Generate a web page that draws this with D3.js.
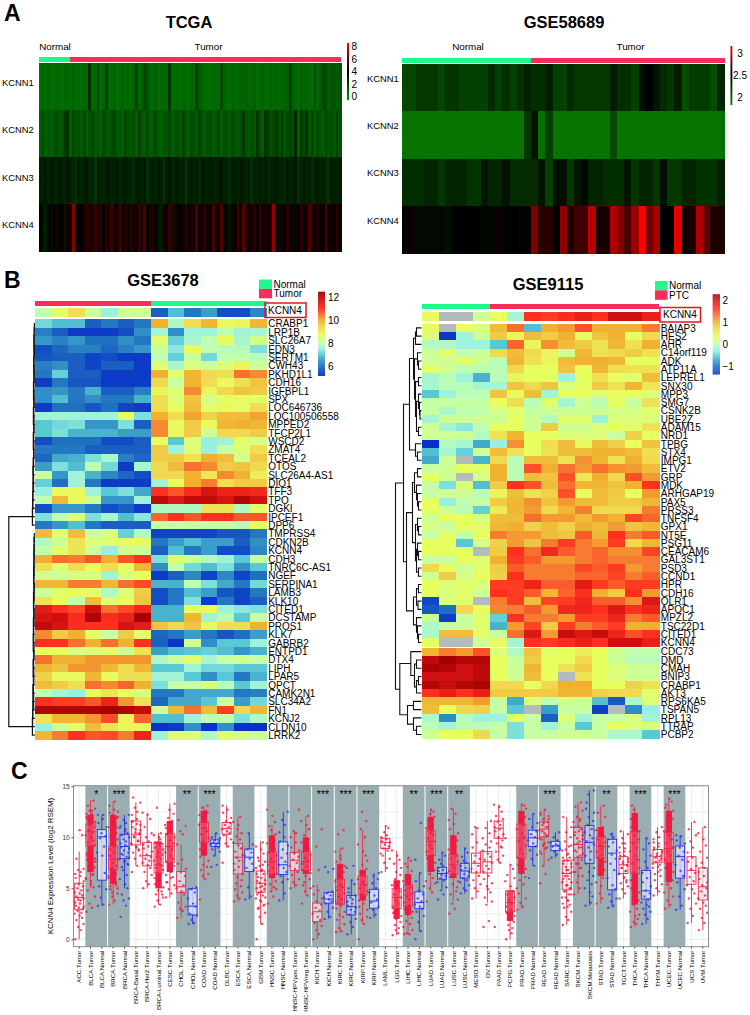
<!DOCTYPE html>
<html>
<head>
<meta charset="utf-8">
<script src="https://cdn.jsdelivr.net/npm/d3@7"></script>
<style>
  body { margin: 0; background: #fff; }
  text { font-family: "Liberation Sans", Arial, sans-serif; fill: #000; }
</style>
</head>
<body>
<svg id="fig" width="750" height="1015"></svg>
<script>
// panel A
const kcnnGenes = ['KCNN1', 'KCNN2', 'KCNN3', 'KCNN4'];
const tcgaKcnn1 = [.6,.8,.6,.9,.7,.6,.8,.7,.6,.8,.7, .7,.9,.6,.7,.6,.9,.7,2.6,.7,.8, 1.9,.7,.9,2.1,.8,.7,.9,.6,.7,1, .7,.8,.7,.9,2.1,.8,1.1,1.9,1.4,.7, .7,1,.6,.8,.7,.7,2.3,.7,.6,.7, .6,.8,.7,.6,.9,.7,2.2,1.2,.7,.6, .6,.5,.7,.8,.6,1.7,.8,.7,.6,.9, .7,.7,.9,.8,1,.7,.8,1,.6,.7, 1,.7,.8,1.1,.7,.9,.7,.8,.9,1.1, 2.1,.9,.8,.7,1,.7,.9,.7,.7,1.6, .8,1.2,1.8,1.6,1.1,1.4,1.3,1,1.3];
const tcgaKcnn2 = [1.2,1.6,1,1.4,1.1,1.3,1.8,1.2,1.4,2.1,2.4, 1.1,1.7,1.3,1.5,1.2,1.9,1.1,1.4,1.8,1.2, 1.5,1.1,1.7,1.3,1,1.6,2,1.2,1.4,1.1, 1.8,1.3,1.2,1.6,1.1,1.9,1.4,1.2,1.6,1.1, 1.3,1.7,1.2,1,1.5,1.3,1.8,1.1,1.4,1.6, 1.2,1.9,1.3,1.1,1.6,1.4,1.2,2,1.3,1.1, 1.5,1.7,1.2,1.3,1.9,1.1,1.6,1.4,1.2,1.8, 1.3,1.1,1.5,2.2,1.4,1.2,1.7,1.3,2.3,1.6, 1.2,2.4,2,1.4,1.8,2.5,1.5,2.2,1.3,1.6, 2.1,1.4,2.8,1.2,2.2,1.5,2.6,1.3,1.9,1.1, 1.7,1.4,1.2,2,1.3,1.6,1.2,1.8,1.4];
const tcgaKcnn3 = [3.1,3,3.3,2.9,3.2,3.1,2.8,3.2,3,2.9,3.3, 3,2.7,2.4,3.2,2.9,3.1,3.4,2.9,3,2.3, 3.2,3,2.8,3.1,3.3,2.9,3,3.2,2.7,3.1, 3.3,2.9,3,2.6,3.2,3.1,2.9,3.3,2.5,3, 3.1,2.9,3.2,3,2.4,3.1,3.3,2.9,3,3.2, 2.8,3.1,2.3,3,3.2,2.9,3.1,2.7,3.3,3, 2.9,3.2,3,2.8,3.1,3.4,2.9,3,2.6,3.2, 3.1,2.9,3.3,3,2.8,3.2,2.5,3.1,2.9,3.3, 3,3.2,2.8,3,3.1,3.3,2.9,3,2.7,3.2, 2.9,3.1,3.3,2.4,3,3.2,2.9,3.1,2.6,3, 3.2,2.9,3.1,2.8,2.4,3.2,3,2.9,3.1];
const tcgaKcnn4 = [4.1,3.4,3,4,3.6,4.2,4.4,3.9,4.2,3.3,4.3, 4.4,6.4,3.9,4.1,4,4.5,4.9,4.4,4.6,5, 4.3,4.7,4.2,4.7,4.4,5.1,4.1,4.5,5.2,4.2, 4.6,4.1,4.7,4.3,4.4,4.9,4.2,5.4,4.1,4.5, 4.7,4,3.4,3.1,4.4,4.2,5,3.3,4.6,4.2, 4.1,4.3,4.8,4.1,4.5,4.3,5.3,4.2,4.4,4.8, 4.3,4.1,5.3,4.5,4.1,5.4,4.2,3.7,3.3,4.4, 4.2,5.2,4.1,5.6,4.7,4.1,4.4,4.8,4.2,5, 4.3,4.5,4.1,4.7,6.6,4,3.6,4.5,4.2,4.8, 4.1,4.3,3.7,4.2,4.8,4.1,4.4,5.5,4.4,4.1, 4.6,4.1,4.2,5.3,3.8,4.4,4.2,4.8,4.2];
const tcgaValues = [tcgaKcnn1, tcgaKcnn2, tcgaKcnn3, tcgaKcnn4];
const tcgaNormalCount = 11;

const gseKcnn1 = [2.12,2.12,2.2,2.2,2.2,2.12,2.22,2.22,2.15,2.15,2.15,2.15,2.28,2.15,2.25,2.15,2.25,2.33, 2.25,2.25,2.35,2.15,2.15,2.28,2.2,2.2,2.2,2.2,2.2,2.35,2.25,2.25,2.15,2.42,2.5,2.38,2.28,2.2,2.35,2.08,2.18,2.18,2.18,2.08,2.3];
const gseKcnn2 = [1.87,1.87,1.87,1.87,1.87,1.87,1.87,1.87,1.87,1.87,1.87,1.87,1.87,1.87,1.87,1.87,1.87,2.2, 2.4,1.9,2.15,1.87,1.87,1.87,1.87,1.87,1.87,1.87,1.87,2.1,1.87,1.87,1.87,1.87,1.87,1.87,1.87,1.87,1.87,1.87,1.87,1.87,1.87,1.87,1.87];
const gseKcnn3 = [2.25,2.25,2.25,2.3,2.3,2.2,2.3,2.3,2.3,2.22,2.22,2.38,2.3,2.3,2.4,2.27,2.27,2.27, 2.27,2.4,2.15,2.42,2.42,2.2,2.38,2.45,2.3,2.3,2.25,2.25,2.25,2.38,2.2,2.3,2.3,2.2,2.42,2.2,2.2,2.3,2.3,2.23,2.23,2.23,2.32];
const gseKcnn4 = [2.5,2.54,2.45,2.45,2.45,2.45,2.42,2.5,2.5,2.5,2.5,2.46,2.46,2.53,2.48,2.5,2.48,2.48, 2.83,2.6,2.6,2.5,2.87,2.58,2.66,2.66,2.98,2.56,2.56,2.95,2.85,2.7,2.9,3.16,2.8,2.93,2.5,2.5,3.1,2.55,2.58,2.95,2.75,2.58,2.58];
const gseValues = [gseKcnn1, gseKcnn2, gseKcnn3, gseKcnn4];
const gseNormalCount = 18;

// panel B, GSE3678: 7 tumor columns then 7 normal columns
const g3678Genes = ['CRABP1','LRP1B','SLC26A7','EDN3','SERTM1','CWH43','PKHD1L1','CDH16','IGFBPL1','SPX','LOC646736','LOC100506558','MPPED2','TFCP2L1','WSCD2','ZMAT4','TCEAL2','OTOS','SLC26A4-AS1','DIO1','TFF3','TPO','DGKI','IPCEF1','DPP6','TMPRSS4','CDKN2B','KCNN4','CDH3','TNRC6C-AS1','NGEF','SERPINA1','LAMB3','KLK10','CITED1','DCSTAMP','PROS1','KLK7','GABRB2','ENTPD1','DTX4','LIPH','LPAR5','QPCT','CAMK2N1','SLC34A2','FN1','KCNJ2','CLDN10','LRRK2'];
const g3678Kcnn4 = [8,8.6,9.3,8.2,7.5,8.3,8.2,5.8,6.9,6.1,6.6,5.6,5.6,6.3];
const g3678Values = [
  [7.2,6.9,6.9,5.8,6.1,5.8,6.1,10,7.8,9.3,9.9,8.8,8.9,9.9],
  [6.2,5.8,5.4,5.4,5.4,5.6,6.4,7.7,6.4,7.6,7.6,8,7.6,7.7],
  [6.5,6.2,6.5,6,6,6.4,6.1,8.6,7.1,7.7,8,8.8,7.7,8.3],
  [5.6,5.9,6.2,6.2,5.9,6.2,6.5,8.2,7.4,8.8,8,7.9,7.9,7.3],
  [5.7,5.8,5.8,5.5,5.6,5.4,5.4,8,7.1,8.2,7.2,8,8,7.9],
  [6.2,6.4,5.8,5.5,5.8,5.8,5.4,8.5,7.7,8.4,8.2,8.5,8.9,8.2],
  [6.1,7.1,5.8,5.8,5.4,5.4,5.4,10,8.6,9.9,9.4,9.3,10.5,10.3],
  [5.4,6.1,5.7,5.7,5.4,5.4,5.4,9.4,8.1,9.9,9.3,8.8,9.3,9.7],
  [6.4,6.5,6.1,6.8,5.8,5.8,6.2,8.9,8.5,10.3,8.9,9.4,9.7,9.6],
  [6.4,6.9,6.1,6.4,6.1,6.1,6.8,9.3,8.5,9.7,8.3,8.7,8.8,8.6],
  [5.4,6,6,5.7,6,5.5,5.4,9.3,8.7,9.8,8.6,8.8,8.6,9.3],
  [7.6,7.6,7.6,7.6,7.6,8.7,7.3,10,9.3,10.1,9.5,9.8,9.8,10.1],
  [7,7.2,7.3,6.5,6.5,7.3,5.8,10.3,8.8,9.6,8.8,9.9,10,9.9],
  [7,7.3,6.8,6.8,6.8,6.6,6.6,10.3,8.8,9.6,8.2,9.4,9.4,9.6],
  [5.6,6,6,6,5.6,5.6,5.8,8.7,7,8.5,7.5,7.6,8.6,8.4],
  [6.1,6.1,6.1,5.8,5.8,5.8,5.8,9.6,7.6,8.5,7.5,8.1,8.5,9.3],
  [5.9,6.7,6.8,7.3,7.7,6.2,5.9,9.6,9.6,9.2,10,9.8,8.3,9.6],
  [6.6,7.3,6.9,8,7.2,5.4,7.7,9.4,9.8,10.5,10.3,9.6,9.7,9.4],
  [8.2,6.5,7.6,6.8,6.3,5.9,5.6,9.4,9.4,10,9.1,10.3,10,9],
  [7.1,6,7.6,6.1,5.4,5.4,5.4,7.6,8.7,10,10.4,9.3,9.6,9.6],
  [7.5,8.8,8.8,7.6,7,7.3,6.7,11,10.7,11.1,11.7,11.3,11.3,11.2],
  [8,9.8,8.8,8.2,6.5,6.5,7.6,12,11.6,12,12,11.7,12.2,11.8],
  [5.6,6.5,6.5,6.1,5.6,5.8,5.4,7.8,7.8,7.8,9.2,9.2,7.8,8.6],
  [7.3,8,8.5,7.3,7.7,6.9,7.4,10.6,11,10.7,11,11,10.7,10.7],
  [6.1,6.5,6.9,6.1,5.8,5.8,5.8,8.1,8.1,8.1,8.1,8.1,7.9,8.7],
  [9.8,8.6,9.8,8.2,8.4,7.1,7.8,5.5,5.5,5.5,5.5,5.7,5.7,6.1],
  [7.8,8.2,9.2,8.5,8.6,8.8,8.8,6.1,6.6,6.9,6.6,6.6,5.8,6.4],
  [8,8.6,9.2,8.2,7.5,8.3,8.2,5.8,6.9,6.1,6.6,5.6,5.6,6.3],
  [10,10.5,10.4,10.7,10,10.7,11,7.3,8.6,8.2,7.8,7.6,7,8.1],
  [9.3,8.6,9.3,8.8,9.3,8.7,9.9,6.4,8,7.2,6.9,7.3,6.4,7],
  [8.3,8.2,8.4,8.4,7.6,8.4,8.7,5.4,5.8,6.3,5.5,6.3,5.5,6],
  [9.9,9.9,10.4,10.4,9.9,10.5,10.8,6.8,6.8,8,7.3,6.7,6.1,7.2],
  [8.2,8.6,8.8,8.6,7.8,8.5,9.6,5.6,6.1,6.9,6.6,5.7,5.5,6.1],
  [9.2,8.8,8,9.8,8.5,8.7,9.7,5.6,6.1,7.3,5.4,6.1,5.5,5.8],
  [11.5,11,10.8,11.8,10.5,10.8,11.2,6.8,6.8,8.7,8.8,7.6,7.4,7.3],
  [11.7,11.8,11.1,12.3,11.1,11.3,12.4,6.8,6.8,9.9,7.6,7.9,7,8.1],
  [12,11.7,11.1,11,11,11.7,11.5,9.7,9.4,9.7,8.8,9.3,9.3,10],
  [10.3,9.6,10,8.6,8.1,9.6,8.6,5.9,6.1,6.6,6.1,5.7,6,6.6],
  [11,11,10.5,10,10.5,10,11,5.8,5.3,8.3,6.4,7,7,7.6],
  [8.7,8.7,8.4,8.4,8.6,8.2,9.2,6.6,6.9,7,7.1,6.9,6.5,6.8],
  [10.5,10,10,10.2,10.2,10.2,10.2,7.8,8.2,8.6,7.7,8.1,8.3,8.1],
  [9.9,9.7,10.2,10.2,9.9,9.3,9.9,7,7,7.6,7.2,7.2,7,7],
  [9.5,8.8,8.8,9.9,8.8,9.3,9.3,7.6,7.6,7,6.4,7,6.1,6.8],
  [9.8,9.6,9.3,10.5,10.3,10.6,10,7.3,8.1,8.1,8.4,7.9,7,7.6],
  [8,7.7,7.5,8.7,9.2,8.7,8.4,6.1,6.1,6.7,6.7,6.7,6.1,6.2],
  [11,10.9,10.9,10.7,11.3,10.2,9.2,5.9,6.7,6.7,7,8.1,6.6,7.2],
  [12.3,12.3,12.3,12.3,12.4,12.3,12,8.2,9.9,10.5,9.8,10.9,9.4,9.9],
  [9.2,9.9,9.9,10.2,10.8,8.9,10.6,6.9,6.9,7.6,8,8,7.3,7.8],
  [7.5,8.2,8.6,9.8,9.2,8.9,8.9,5.3,5.4,6.4,5.3,6.4,5.3,5.3],
  [9.9,10.4,11,10.7,10.8,10.4,11.3,7.6,8.6,8.5,7.8,8.6,8.4,8.2]
];
const g3678TopMerges = [.4,.6,.9,.5,.8,1.1,.6,.9,1.3,.7,1,1.4,.8,1.1,1.5,.9,1.2,1.6,1.8,1.3,1.9,2,2.2,2.4];
const g3678BottomMerges = [.5,.8,.6,1,.7,1.2,.9,.6,1.3,1,.7,1.4,1.1,1.6,.8,1.2,1.7,1,1.4,1.9,1.2,2,2.2,2.4];

// panel B, GSE9115: 4 normal columns then 10 PTC columns, null = missing cell
const g9115Genes = ['BAIAP3','HES2','AHR','C14orf119','ADK','ATP11A','LEPREL1','SNX30','MPP3','SMG7','CSNK2B','UBE2Z','ADAM15','NRD1','TPBG','STX4','IMPG1','ETV2','GRP','MDK','ARHGAP19','PAX5','PRSS3','TNFSF4','GPX1','NT5E','PSG11','CEACAM6','GAL3ST1','PSD3','CCND1','HPR','CDH16','OLR1','APOC1','MPZL2','TSC22D1','CITED1','KCNN4','CDC73','DMD','CMAH','BNIP3','CRABP1','AKT3','RPS6KA5','TSPAN5','RPL13','TTRAP','PCBP2'];
const g9115Kcnn4 = [.35,null,null,.1,.3,-.2,1.6,1.55,1.65,1.8,1.6,2,2,1.8];
const g9115Values = [
  [.35,null,.3,.2,.9,1.3,-.6,1,1.1,1.45,1,1,1,1.25],
  [.2,-1.35,-.25,.1,.8,.4,.9,.8,1,.3,.85,1,.3,.7],
  [-.1,-.1,-.25,-.25,-.55,1.35,.4,1.15,.9,.8,.6,.95,.6,1],
  [.1,.25,0,.1,.7,.9,.7,.4,.1,.95,.6,.7,.8,.6],
  [.1,.1,.25,.1,-.05,.95,.6,.4,.9,1,1,.95,.3,.3],
  [.25,.1,-.05,-.05,-.05,.7,.3,.3,.85,.3,.95,.65,.6,.6],
  [-.2,-.05,-.25,-.65,-.05,.4,.3,.3,-.25,.3,.6,.3,.25,.9],
  [-.2,-.05,-.05,-.2,-.2,.85,.7,.85,.2,.3,.8,.6,.95,.55],
  [-.55,-.25,-.05,-.05,.85,.35,.9,-.25,.3,.3,.2,.3,.3,.2],
  [.05,.05,.05,.05,.3,.65,-.05,.25,-.2,.1,-.05,.3,.05,.6],
  [.05,-.15,0,0,.15,.25,.05,.1,.1,.1,.1,.15,.15,.25],
  [-.2,.1,.1,.1,.1,.3,.1,-.1,.25,.25,-.25,.2,.2,.2],
  [.1,-.2,-.35,0,.3,.3,.1,.8,.1,.1,.2,.3,.25,.6],
  [.1,.1,.1,-.1,.6,.95,.3,.3,.2,.2,.2,.05,.75,.3],
  [-1.4,-.1,-.2,-.7,-.3,1.15,.3,.65,.9,.35,.9,.75,.3,.85],
  [-.6,-.2,-.5,.1,.9,.6,.3,.6,.9,.9,1,1,.9,.65],
  [-.7,.1,null,-.65,.7,-.05,.9,.9,.6,1.15,.95,.6,1,.7],
  [.05,.1,.3,.25,1,-.05,1.45,1,1.3,1.1,1.3,1.15,1.1,.9],
  [.3,.1,null,.15,1,-.05,.9,.85,1.45,.55,1,.7,1.45,1.1],
  [.05,-.4,.2,-.6,.8,1.6,1.45,.9,1.3,.95,.95,.85,1,1.6],
  [.05,.1,.1,-.05,.4,.9,.6,.75,1.45,.3,.9,.8,.3,1.1],
  [.3,-.3,0,.05,.8,.95,1.15,.85,1.1,.9,.9,.8,.8,.95],
  [.3,.1,-.05,-.5,.5,.95,1.1,.7,.95,1.25,.7,.7,.7,1.25],
  [.1,.3,.3,.2,.9,.9,1.3,1.1,1.1,.9,1.1,1,1.5,1.35],
  [.15,.05,.3,.25,.95,1,.75,.9,.75,1,.9,1.1,.85,.95],
  [.05,.3,0,.3,1.25,1.1,1.1,.9,.85,1.4,.95,1.6,1.25,1.4],
  [.3,.3,-.55,.15,.75,1.1,.85,1.25,1.55,1.25,1.1,1.55,.7,.95],
  [.3,.3,.3,null,.8,1.6,1.3,1.7,1.4,1.25,1.35,1.15,1.15,1.5],
  [.05,.05,.3,.25,1,1.55,1.4,1.1,1.1,1.25,1.35,1.25,1.25,1.25],
  [.7,.35,.1,.25,.8,1.4,1.25,1.25,1.25,1.5,1.4,1.55,1.1,1.25],
  [.1,.8,.15,.3,.75,1.6,1.25,1.25,1.25,1.35,1.35,1.5,1.25,1.4],
  [.3,.2,.25,.2,1.55,1.55,1.75,1.4,1.4,1.85,1.55,1.4,1.55,1.55],
  [.3,.2,.25,.1,1.6,1.55,1.4,.95,1.35,1.6,1,.8,1.6,1.1],
  [-1.25,.2,.25,null,1.25,1.55,.9,1.5,1.55,1.7,1.4,1.4,1.15,1.9],
  [-1.15,-1,.7,.3,1.2,1.25,1.4,1.1,1.7,1.75,1.6,1.9,1.6,1.75],
  [.1,-1.3,.05,.25,-.5,1.6,1.25,1.25,1.1,1.55,1.55,1.75,1.25,1.4],
  [-.15,.05,.1,.25,-.65,1.1,1.5,.8,1.55,1.25,1.4,1.55,1,1],
  [-.15,.9,.9,.25,.05,1.3,1.9,1.1,2.05,1.9,2.05,1.75,1.45,1.6],
  [.3,null,null,.1,.3,-.2,1.6,1.55,1.65,1.8,1.6,2,2,1.8],
  [.95,1.25,1.1,1.45,.2,-.1,.85,.25,.3,.5,.3,.1,0,0],
  [2.1,2.25,2.15,2.15,.3,.05,.8,.3,.3,.7,.3,.1,-.05,-.05],
  [2.2,2.15,2,2.1,.3,.1,.95,.3,.6,.8,.3,.2,.1,.1],
  [2,2,2,2.1,.3,.1,.9,.3,null,.6,.3,.2,.1,.1],
  [2.15,2.05,2.15,2.2,.7,.7,.3,.7,1,1,.3,.3,.75,.6],
  [1.6,1.8,1.6,1.8,.8,.8,.8,.8,.95,.95,.75,.7,.7,.25],
  [.95,.95,.95,1.1,.05,-.7,.2,0,.15,.1,-.6,-1.15,-.15,.2],
  [.9,.3,.7,.75,.05,-.55,null,-.75,.05,.05,-1.3,null,-.85,-.3],
  [-.15,-.85,-.05,-.25,-.25,.3,.05,-1.1,.2,-.25,.05,.05,.2,-.25],
  [-.05,-.2,-.05,-.05,.05,-.4,.05,-.25,.05,-.55,.05,.3,.2,.2],
  [.1,.3,.3,.7,.05,-.4,.05,.05,.1,.1,.05,-.15,-.15,-.55]
];
// [height, child, child], numbers are row indexes
const g9115Tree = [26,
  [18,
    [12,
      [8, [6, [5,0,1], 2], [7, [4,3,[3,4,5]], [6, [3,6,7], [5, [3,8,[2,9,[1.5,10,11]]], [3,12,13]]]]],
      [6, 14, [4,15,16]]],
    [15,
      [9, [7, [4,17,18], [5,19,[4,20,[3,21,22]]]], [6, [4,23,[3,24,25]], [5, [4,26,[3,27,28]], [3,29,30]]]],
      [8, [5, [3,31,32], [3.5,33,34]], [5, 35, [4,36,[3,37,38]]]]]],
  [21.7,
    [10.7, 39, [7, [5,40,41], [5, [3,42,43], 44]]],
    [14, [8,45,46], [8,47,[5,48,49]]]]];

// panel C
const pancanCats = ['ACC.Tumor','BLCA.Tumor','BLCA.Normal','BRCA.Tumor','BRCA.Normal','BRCA-Basal.Tumor','BRCA-Her2.Tumor','BRCA-Luminal.Tumor','CESC.Tumor','CHOL.Tumor','CHOL.Normal','COAD.Tumor','COAD.Normal','DLBC.Tumor','ESCA.Tumor','ESCA.Normal','GBM.Tumor','HNSC.Tumor','HNSC.Normal','HNSC-HPVpos.Tumor','HNSC-HPVneg.Tumor','KICH.Tumor','KICH.Normal','KIRC.Tumor','KIRC.Normal','KIRP.Tumor','KIRP.Normal','LAML.Tumor','LGG.Tumor','LIHC.Tumor','LIHC.Normal','LUAD.Tumor','LUAD.Normal','LUSC.Tumor','LUSC.Normal','MESO.Tumor','OV.Tumor','PAAD.Tumor','PCPG.Tumor','PRAD.Tumor','PRAD.Normal','READ.Tumor','READ.Normal','SARC.Tumor','SKCM.Tumor','SKCM.Metastasis','STAD.Tumor','STAD.Normal','TGCT.Tumor','THCA.Tumor','THCA.Normal','THYM.Tumor','UCEC.Tumor','UCEC.Normal','UCS.Tumor','UVM.Tumor'];
const boxQ1 = [2.9,9.15,5.8,6.8,7.9,9.25,7.2,6.5,7.55,4.6,2.4,9.5,9.1,10.3,6.4,6.65,4.6,6.4,6.35,6.75,6.75,1.75,3.55,3.45,2.4,4.35,3.05,8.9,3,3.25,3,8.2,5.9,6.4,6,6.5,6.5,9.9,2.7,7.95,9.1,10.05,8.7,4.85,8,7.45,7.95,4.85,6.45,6.45,3.95,7.5,7.5,6,5.4,3.85];
const boxMed = [4.1,10.55,10.05,7.85,9.1,10.3,8.2,7.3,9.1,5.15,3.25,10.9,9.4,10.85,8.05,8.05,5.5,7.6,7.3,7.75,7.6,2.7,3.95,5.15,3.2,5.4,3.75,9.5,4.1,4.35,3.6,9.6,6.45,7.3,6.7,7.45,7.6,10.9,3.6,9.9,9.95,10.8,9.15,6.45,9.3,9.5,9.1,8.45,7.3,9.5,4.75,8.1,8.9,8.1,6.75,5.15];
const boxQ3 = [5.5,11.3,10.75,9.15,10.3,11.6,9.5,9.4,10.35,6.65,4.95,11.45,9.75,11.45,9.4,8.85,6.7,8.55,9.55,8.5,8.6,3.55,4.6,5.9,4.3,6.2,4.9,9.9,4.95,5.35,4.65,10.65,7.05,8.35,7.45,8.45,8.6,11.6,4.75,11.3,10.7,11.5,9.6,7.75,10.95,11.15,10.05,9.8,8.1,10.55,6.75,8.8,10.45,9.15,8.1,7];
const whiskLo = [0,5,3.3,3.4,5,7.2,5,3.4,4.1,2.1,1.5,5.9,8.2,9,3.7,3.9,1.5,4.7,3.8,5,4.3,0,2,.7,.5,1.5,2.1,6.6,.4,.5,.8,4.7,4.9,3.7,4.5,4,3.6,7.5,0,3,7.2,7.2,8,1.4,4.4,3.3,3.5,3.1,4,1.2,1.5,4.3,3,2.9,1.6,.9];
const whiskHi = [8.6,13.65,12.2,13.5,12.2,13.4,12.4,10.4,13.3,9.3,5.1,13.1,10.4,13.1,12,10.4,9.6,11.2,12.5,10.6,12.1,5.4,4.7,8.9,5.8,10.7,6.5,11.1,8.7,8,6.5,12.6,8.5,12.8,8.9,11,11.6,13.2,7.3,13.2,12.3,12.7,10.5,12,13.4,14.6,13.1,10.5,10.6,13,9.9,11,13.8,10.2,11.5,11];
// value range that is packed solid with points, null = sparse group
const coreLo = [null,6.6,null,5.4,null,null,null,5,6.6,null,null,8.2,null,null,null,null,null,6,null,null,6.4,null,null,3.4,null,3.8,null,null,2,2.4,null,6.6,null,6,null,null,null,null,1.8,6.4,null,null,null,null,null,null,6.2,null,null,3.4,null,null,5.6,null,null,null];
const coreHi = [null,12.2,null,12.2,null,null,null,9.6,11.6,null,null,12.6,null,null,null,null,null,10.2,null,null,10,null,null,7.4,null,6.8,null,null,5.8,6.4,null,12,null,10.2,null,null,null,null,4.8,12.6,null,null,null,null,null,null,11,null,null,12.4,null,null,12.6,null,null,null];
const pointValues = [
  [0,.9,1.2,1.5,1.9,2.1,2.3,2.5,2.6,2.8,3,3.1,3.2,3.3,3.5,3.6,3.8,3.9,4,4.2,4.3,4.5,4.6,4.8,5,5.2,5.4,5.7,6,6.2,6.4,6.6,6.8,6.9,7.9,10.2,10.7],
  [2.7,3.1,3.5,4.2,4.8,5.1,5.4,5.9,6.3,6.8,7.1,7.5,7.9,8.2,8.6,12,12.3,12.6,12.8,13.1,13.6],
  [3.3,3.4,4.1,4.9,5.2,6.5,8.2,8.5,9.1,9.9,10.1,10.4,11,11.4,11.8,12.2,12.2],
  [3.4,3.8,4.2,4.5,4.9,5.3,5.7,6,6.4,7,11,11.5,12,12.4,12.7,13.1,13.5],
  [2.2,3.3,3.8,4,4.4,5,5.4,5.9,6.3,6.8,7.3,7.6,8,8.4,10.8,11.1,11.4,11.7,12.2],
  [6.6,7.2,7.9,8.2,8.5,8.8,9,9.3,9.6,10,10.4,10.8,11.2,11.5,11.8,12.2,12.5,12.9,13.4,13.9],
  [5,5.4,5.7,6.3,6.6,7,7.3,7.5,7.7,7.9,8.1,8.3,8.6,8.9,9.1,9.3,9.6,10,10.4,11,11.8,12.2,12.4],
  [3.2,3.4,3.8,4.1,4.4,4.7,10,10.2,10.4,12.9],
  [4.1,4.5,4.9,5.3,5.6,6.1,6.7,11.2,11.6,11.9,12.3,12.7,13.3],
  [2.1,2.8,3,3.2,3.6,4.4,4.7,5,5.3,5.7,6.2,6.6,6.9,7.4,7.8,9.3,10.3,10.6,11.1,11.7],
  [1.5,1.6,1.9,2.3,2.5,3.2,3.5,4,4.6,4.9,5.1],
  [3.9,5.9,6.2,6.4,6.8,7.1,11.8,12.2,12.6,12.9,13.1],
  [7.1,7.3,8.2,8.6,8.8,9,9.2,9.3,9.4,9.5,9.6,9.7,9.9,10,10.4],
  [7.5,9.1,9.4,9.8,10.2,10.4,10.6,10.8,11,11.2,11.4,11.6,11.9,12.4,12.7,13.1],
  [3.7,4,4.3,4.6,4.9,5.2,11.2,11.5,12],
  [3.9,4.2,5.1,6.8,7,7.4,7.9,8.2,8.5,8.8,9.3,10.4],
  [0,1.5,2.2,2.6,3,3.3,3.7,4,4.3,4.6,4.9,5.1,5.4,5.7,6,6.4,6.8,7.2,7.6,8,8.4,8.8,9.1,9.5],
  [3.5,4.2,4.7,4.9,11.1,11.5,12.1,12.7],
  [3.8,4.5,5.6,5.9,6.2,6.6,7,7.3,7.6,8,8.4,8.8,9.2,9.6,10,10.5,11.2,11.7,12.5],
  [5,5.3,5.6,5.9,6.3,6.6,6.9,7.2,7.5,7.8,8.1,8.4,8.7,9,9.5,10,10.4,10.6,12.7],
  [3.5,4.3,4.7,5,5.3,10.8,11.2,11.6,12.1],
  [0,.5,.9,1.3,1.6,1.9,2.2,2.5,2.8,3.1,3.4,3.7,4,4.4,4.8,5.2,6.8,9.1,10.8],
  [2,2.2,2.7,3.1,3.5,3.7,3.9,4.1,4.3,4.5,4.7,6.6,6.9,7.1],
  [.7,.8,1.1,1.5,1.9,2.2,8.2,8.6,8.9,10.3,10.7],
  [.5,1.2,1.7,2,5,5.4,5.8,7,7.2],
  [0,1.5,1.9,2.2,2.5,8.2,8.6,9.3,10,10.8,11.6,12.5],
  [2.1,2.4,2.9,3.2,3.6,3.9,4.3,4.6,5,5.5,5.9,6.2,6.5],
  [6.6,7,7.5,7.9,8.2,10.9,11.1],
  [.4,.6,.9,7,7.4,7.8,8.2,8.7],
  [.5,.5,.6,.9,7.4,7.7,8],
  [0,.8,1.7,2.3,2.7,3,3.2,3.4,3.7,4,4.4,4.8,5.2,5.7,6.5,7.8,11.4],
  [3.7,4.6,5,5.5,8,12.5,12.7],
  [3.9,4.4,4.8,5.1,7.8,8.2,8.5],
  [2.5,3,3.5,3.9,4.4,4.7,11.3,11.7,12.3,12.8],
  [4.5,4.8,5,5.3,8.1,8.5,8.9],
  [4,4.7,5,5.4,5.8,6.2,6.6,6.9,7.2,7.6,7.9,8.2,8.6,9,9.5,10.3,10.9,11],
  [1.2,1.8,3.4,3.7,4.1,4.6,4.9,9.9,10.4,10.9,11.6],
  [1.2,7.5,7.8,8.2,8.6,9,13,13.2],
  [0,.6,.9,6,6.3,6.9,7.3,9.9],
  [2.9,3.2,3.6,4,4.5,13.1,13.2],
  [6,7.2,7.9,8.3,8.7,9.1,9.4,9.7,10,10.3,10.6,11,11.4,11.8,12.3],
  [5.5,6.4,7.2,7.8,8.4,9,9.4,9.9,10.2,10.6,11,11.4,11.8,12.2,12.7],
  [8,8.3,8.6,8.9,9.1,9.2,9.3,9.5,9.7,10,10.5],
  [1.4,1.9,2.2,2.7,3.1,3.4,3.8,4.1,4.4,4.7,5,5.3,5.6,5.9,6.2,6.5,6.8,7.1,7.4,7.7,8,8.3,8.7,9.1,9.6,10,10.5,11,12],
  [4.4,5,5.6,6.2,6.6,7,7.4,7.8,8.2,8.6,9,9.4,9.8,10.2,10.6,11,11.6,12,12.6,13,13.4],
  [3.3,3.6,14.2,14.6,13.4],
  [3.5,4,4.5,12,12.4,13.1],
  [3.1,3.3,3.7,4,4.4,4.9,5.3,6,6.8,7.4,7.9,8.3,8.7,9.1,9.5,9.8,10,10.3],
  [4,4.5,4.9,5.2,5.5,5.8,6.1,6.4,6.7,7,7.3,7.6,7.9,8.2,8.6,9,9.4,9.9,10.3,10.6],
  [1.2,1.5,1.7,2.4,13.1],
  [1.5,2,2.4,2.7,3,3.2,3.4,3.6,3.9,4.2,4.5,4.8,5.2,5.6,6,6.5,7,7.6,8.2,8.8,9.4,9.9],
  [4.3,4.7,5,5.4,5.8,6.2,6.6,7,7.3,7.6,7.9,8.2,8.5,8.8,9.1,9.5,10,10.5,11],
  [3,3.4,3.8,4.2,13.2,13.5,13.8],
  [2.9,3.3,4.2,4.9,5.6,6.2,6.7,7.3,7.8,8.2,8.6,9,9.4,9.7,10.1,10.2],
  [1.6,2.3,3,3.5,4,4.5,4.9,5.3,5.7,6.1,6.5,6.9,7.2,7.6,8,8.5,9,9.6,10.2,10.8,11.5],
  [.9,1.6,2.1,2.6,3,3.3,3.6,4,4.3,4.7,5,5.3,5.6,5.9,6.2,6.6,7,7.5,8,8.6,9.2,9.8,10.4,11]
];
// points inside the crowded part of a column, same order as pancanCats
const crowdedValues = [
  [],
  [5.7,6,6.4,6.7,7,7.3,7.6,7.8,8.1,8.4,8.7,8.9,9.2,9.5,9.7,10,10.2,10.5,10.7,11,11.2,11.5,11.8,12,12.3,12.6],
  [],
  [4.6,5,5.2,5.6,5.9,6.2,6.5,6.9,7.2,7.5,7.8,8.2,8.5,8.8,9.1,9.4,9.8,10.1,10.4,10.7,11,11.3,11.6,11.9,12.2,12.5],
  [7.1,7.4,7.7,7.9,8.1,8.3,8.5,8.7,8.9,9,9.2,9.4,9.6,9.8,10,10.2,10.4,10.6,10.9],
  [8.7,9.1,9.4,9.7,10.1,10.3,10.5,10.7,11,11.3,11.6],
  [],
  [4.4,4.8,5.1,5.4,5.7,6,6.2,6.5,6.8,7,7.2,7.4,7.7,7.9,8.1,8.3,8.5,8.8,9,9.3,9.5,9.8],
  [5.6,6,6.3,6.6,6.9,7.2,7.6,7.9,8.2,8.5,8.8,9.1,9.4,9.7,10,10.3,10.6,10.9],
  [],
  [],
  [7.3,7.7,8.1,8.5,8.8,9.2,9.6,9.9,10.3,10.6,10.9,11.2,11.5,12,12.4],
  [],
  [],
  [5.5,5.8,6.1,6.4,6.8,7.1,7.4,7.7,8,8.3,8.6,8.9,9.2,9.5,9.8,10.1,10.4,10.8],
  [],
  [3.1,3.4,3.8,4.1,4.4,4.7,5,5.2,5.5,5.8,6.1,6.4,6.7,7,7.3,7.7],
  [5.1,5.4,5.7,6.1,6.4,6.7,7,7.3,7.6,7.9,8.2,8.5,8.8,9.1,9.4,9.7,10,10.3,10.7],
  [],
  [],
  [5.6,5.9,6.2,6.5,6.8,7.1,7.4,7.7,8,8.3,8.6,8.9,9.2,9.5,9.8,10.2],
  [],
  [],
  [2.4,2.7,3,3.3,3.6,3.9,4.2,4.5,4.8,5.1,5.4,5.7,6,6.3,6.6,6.9,7.2,7.6,7.9],
  [2.4,2.7,2.9,3.1,3.3,3.5,3.7,3.9,4.1,4.3,4.6],
  [2.9,3.2,3.5,3.8,4.1,4.4,4.7,5,5.3,5.6,5.9,6.2,6.5,6.9,7.3,7.7],
  [],
  [8.4,8.7,8.9,9.1,9.3,9.5,9.6,9.8,10,10.2,10.5],
  [1.1,1.4,1.7,2,2.3,2.6,2.9,3.2,3.5,3.8,4.1,4.4,4.7,5,5.3,5.6,5.9,6.3,6.6],
  [1.2,1.5,1.8,2.1,2.4,2.7,3,3.3,3.6,3.9,4.2,4.5,4.8,5.1,5.4,5.7,6,6.3,6.7,7.1],
  [],
  [5.7,6,6.4,6.8,7.1,7.5,7.9,8.2,8.6,8.9,9.2,9.6,9.9,10.2,10.5,10.9,11.2,11.6,12,12.3],
  [5.6,5.8,6,6.2,6.3,6.5,6.7,6.8,7,7.2,7.4],
  [5.1,5.4,5.7,6.1,6.4,6.7,7,7.3,7.6,7.9,8.2,8.5,8.8,9.1,9.4,9.7,10,10.4,10.8],
  [5.6,5.8,6,6.2,6.4,6.6,6.8,7,7.2,7.5,7.7],
  [],
  [5.2,5.5,5.9,6.2,6.6,6.9,7.2,7.5,7.8,8.1,8.4,8.7,9,9.3,9.6],
  [9.1,9.4,9.7,10,10.3,10.6,10.8,11,11.2,11.5,11.8,12.1,12.5],
  [1.1,1.4,1.7,2,2.3,2.6,2.9,3.2,3.5,3.8,4.1,4.4,4.7,5.2,5.7],
  [5,5.4,5.8,6.1,6.5,6.9,7.3,7.7,8,8.4,8.8,9.2,9.6,10,10.4,10.8,11.2,11.6,12,12.4,12.8],
  [],
  [8.6,8.9,9.2,9.5,9.8,10.1,10.4,10.7,11,11.2,11.5,11.8,12.1,12.4],
  [],
  [3.2,3.5,3.8,4.1,4.4,4.7,5,5.3,5.6,5.9,6.2,6.5,6.8,7.1,7.4,7.7,8,8.4,8.8,9.2],
  [6.2,6.6,7,7.4,7.8,8.1,8.4,8.7,9,9.3,9.6,9.9,10.2,10.5,10.8,11.1,11.5,11.8],
  [4.2,4.6,5,5.4,5.8,6.2,6.6,7,7.4,7.8,8.2,8.6,9,9.3,9.6,9.9,10.2,10.5,10.8,11.2,11.6,12,12.4,12.8],
  [5.2,5.6,6,6.4,6.8,7.2,7.6,8,8.3,8.6,8.9,9.2,9.5,9.8,10.1,10.4,10.7,11],
  [],
  [5.6,6,6.4,6.7,7,7.2,7.4,7.6,7.9,8.2,8.5,8.9,9.4],
  [2,2.3,2.7,3,3.4,3.8,4.2,4.6,5,5.4,5.8,6.2,6.6,7,7.4,7.8,8.2,8.6,9,9.4,9.8,10.2,10.6,11,11.4,11.8,12.2,12.7],
  [],
  [6.4,6.8,7.1,7.4,7.7,8,8.2,8.4,8.7,9,9.4,9.8],
  [4.6,5,5.4,5.8,6.2,6.6,7,7.4,7.8,8.2,8.6,9,9.4,9.8,10.2,10.6,11,11.4,11.8,12.2,12.6,12.9],
  [],
  [],
  []
];
const jitterSteps = [-.8,.3,-.2,.9,-.55,.6,.1,-.95,.45,-.35,.75,-.1,.95,-.7,.2];
const grayGroups = [['BLCA.Tumor','BLCA.Normal'],['BRCA.Tumor','BRCA.Normal'],['CHOL.Tumor','CHOL.Normal'],['COAD.Tumor','COAD.Normal'],['ESCA.Tumor','ESCA.Normal'],['HNSC.Tumor','HNSC.Normal'],['HNSC-HPVpos.Tumor','HNSC-HPVneg.Tumor'],['KICH.Tumor','KICH.Normal'],['KIRC.Tumor','KIRC.Normal'],['KIRP.Tumor','KIRP.Normal'],['LIHC.Tumor','LIHC.Normal'],['LUAD.Tumor','LUAD.Normal'],['LUSC.Tumor','LUSC.Normal'],['PRAD.Tumor','PRAD.Normal'],['READ.Tumor','READ.Normal'],['SKCM.Tumor','SKCM.Metastasis'],['STAD.Tumor','STAD.Normal'],['THCA.Tumor','THCA.Normal'],['UCEC.Tumor','UCEC.Normal']];
const groupStars = ['*','***','**','***','','','','***','***','***','**','***','**','','***','','**','***','***'];

const normalGreen = '#1ff98a';
const tumorRed = '#f92d5b';
const missingGray = '#b2bcbc';
const svg = d3.select('#fig');

function drawPanelLetter(label, x, y) {
  svg.append('text').attr('x', x).attr('y', y)
    .style('font-size', '23px').style('font-weight', 'bold').text(label);
}

function drawTitle(label, x, y) {
  svg.append('text').attr('x', x).attr('y', y).attr('text-anchor', 'middle')
    .style('font-size', '16.5px').style('font-weight', 'bold').text(label);
}

function drawColorBar(color, domain, ticks, box, labelX, anchor) {
  const yScale = d3.scaleLinear().domain(domain).range([box.y1, box.y0]);
  const g = svg.append('g');
  g.selectAll('rect').data(d3.range(box.y0, box.y1, 1)).enter().append('rect')
    .attr('x', box.x0).attr('width', box.x1 - box.x0)
    .attr('y', (d) => d).attr('height', 1.2)
    .attr('fill', (d) => color(yScale.invert(d + .5)));
  g.selectAll('text').data(ticks).enter().append('text')
    .attr('x', labelX).attr('y', (d) => yScale(d)).attr('dy', '.36em')
    .attr('text-anchor', anchor || 'start')
    .style('font-size', '10px').text((d) => String(d).replace('-', '\u2212'));
}

// panel A: one of the two green-black-red stripe heatmaps
function drawStripes(cfg) {
  const nCols = cfg.values[0].length;
  const xScale = d3.scaleBand().domain(d3.range(nCols)).range([cfg.x0, cfg.x1]);
  const yScale = d3.scaleBand().domain(kcnnGenes).range([cfg.y0, cfg.y1]);
  const g = svg.append('g').attr('shape-rendering', 'crispEdges');
  kcnnGenes.forEach((gene, r) => {
    g.selectAll(null).data(cfg.values[r]).enter().append('rect')
      .attr('x', (d, i) => xScale(i)).attr('y', yScale(gene))
      .attr('width', xScale.bandwidth() + .6).attr('height', yScale.bandwidth())
      .attr('fill', (d) => cfg.color(d));
  });
  const split = cfg.splitX || xScale(cfg.nNormal);
  g.append('rect').attr('x', cfg.x0).attr('y', cfg.barY).attr('height', cfg.barH)
    .attr('width', split - cfg.x0).attr('fill', normalGreen);
  g.append('rect').attr('x', split).attr('y', cfg.barY).attr('height', cfg.barH)
    .attr('width', cfg.x1 - split).attr('fill', tumorRed);
  svg.append('g').selectAll('text').data(kcnnGenes).enter().append('text')
    .attr('x', cfg.labelX).attr('y', (d) => yScale(d) + cfg.labelDy)
    .style('font-size', '9.4px').text((d) => d);
  svg.append('text').attr('x', cfg.normalX).attr('y', 49.5).attr('text-anchor', 'middle')
    .style('font-size', '9.8px').text('Normal');
  svg.append('text').attr('x', cfg.tumorX).attr('y', 49.5).attr('text-anchor', 'middle')
    .style('font-size', '9.8px').text('Tumor');
}

const tcgaColor = d3.scaleLinear().domain([0, 4, 8.6]).range(['#008000', '#000000', '#ff0000']);
const gseColor = d3.scaleLinear().domain([1.85, 2.5, 3.16]).range(['#087800', '#000000', '#ff0000']);
drawPanelLetter('A', 4, 21);
drawTitle('TCGA', 189, 28);
drawTitle('GSE58689', 564, 28);
drawStripes({ values: tcgaValues, nNormal: tcgaNormalCount, splitX: 70, color: tcgaColor,
  x0: 39, x1: 341, y0: 62.5, y1: 251.5, barY: 56.5, barH: 5.5, labelX: 2, labelDy: 23.5,
  normalX: 55, tumorX: 208.5 });
drawStripes({ values: gseValues, nNormal: gseNormalCount, color: gseColor,
  x0: 402, x1: 724.5, y0: 64, y1: 253.5, barY: 58, barH: 5.3, labelX: 367, labelDy: 17.5,
  normalX: 468, tumorX: 630.5 });
drawColorBar(tcgaColor, [-.5, 8.6], [0, 2, 4, 6, 8], { x0: 347, x1: 349, y0: 43, y1: 100 }, 351.5);
drawColorBar(gseColor, [1.83, 3.16], [2, 2.5, 3], { x0: 730.5, x1: 732.3, y0: 46, y1: 104.5 }, 740, 'middle');

// panel B
const g3678Color = d3.scaleLinear()
  .domain([5.3, 6, 6.6, 7, 7.5, 8, 8.7, 9.4, 10, 10.5, 11, 11.8, 12.5])
  .range(['#0a32c8', '#2070c0', '#3a9ec8', '#58c8d4', '#98f0e0', '#c0ffb0', '#e8ff60', '#f0d850', '#f0b030', '#f87030', '#ff3020', '#d01010', '#a00000']);
const g9115Color = d3.scaleLinear()
  .domain([-1.38, -1, -.75, -.55, -.3, 0, .3, .7, 1, 1.3, 1.6, 2, 2.26])
  .range(g3678Color.range());

// nested [height, child, child] tree drawn as elbow lines
function drawTree(node, xScale, yScale, g) {
  if (typeof node === 'number') return { x: xScale(0), y: yScale(node) + yScale.bandwidth() / 2 };
  const a = drawTree(node[1], xScale, yScale, g);
  const b = drawTree(node[2], xScale, yScale, g);
  const x = xScale(node[0]);
  g.append('path').attr('d', `M${a.x},${a.y}H${x}V${b.y}H${b.x}`);
  return { x: x, y: (a.y + b.y) / 2 };
}

// comb-shaped cluster: each merge height joins the next row
function combTree(firstRow, merges) {
  return merges.reduce((node, h, i) => [h, node, firstRow + i + 1], firstRow);
}

function drawHeatmap(cfg) {
  const columns = d3.range(cfg.kcnn4.length);
  const xScale = d3.scaleBand().domain(columns).range([cfg.x0, cfg.x1]);
  const yScale = d3.scaleBand().domain(cfg.genes.map((d, i) => i)).range([0, cfg.rowH * cfg.genes.length]);
  const rowY = (i) => cfg.y0 + yScale(i) + (cfg.gapAfter !== undefined && i > cfg.gapAfter ? cfg.gapH : 0);
  const cellFill = (d) => (d === null ? missingGray : cfg.color(d));
  const cells = svg.append('g').attr('shape-rendering', 'crispEdges');
  cfg.values.forEach((row, r) => {
    cells.selectAll(null).data(row).enter().append('rect')
      .attr('x', (d, i) => xScale(i)).attr('y', rowY(r))
      .attr('width', xScale.bandwidth() + .5).attr('height', cfg.rowH + .5)
      .attr('fill', cellFill);
  });
  cells.selectAll(null).data(cfg.kcnn4).enter().append('rect')
    .attr('x', (d, i) => xScale(i)).attr('y', cfg.kcnn4Y)
    .attr('width', xScale.bandwidth() + .5).attr('height', cfg.kcnn4H)
    .attr('fill', cellFill);
  cells.append('rect').attr('x', cfg.x0).attr('y', cfg.barY).attr('height', cfg.barH)
    .attr('width', xScale(cfg.split) - cfg.x0).attr('fill', cfg.firstColor);
  cells.append('rect').attr('x', xScale(cfg.split)).attr('y', cfg.barY).attr('height', cfg.barH)
    .attr('width', cfg.x1 - xScale(cfg.split)).attr('fill', cfg.secondColor);

  svg.append('g').selectAll('text').data(cfg.genes).enter().append('text')
    .attr('x', cfg.x1 + 1.5).attr('y', (d, i) => rowY(i) + cfg.rowH / 2).attr('dy', '.38em')
    .style('font-size', '10px').text((d) => d);

  svg.append('rect').attr('x', cfg.boxX).attr('y', cfg.boxY).attr('width', cfg.boxW).attr('height', cfg.boxH)
    .attr('fill', 'none').attr('stroke', '#e8141c').attr('stroke-width', 1.5);
  svg.append('text').attr('x', cfg.boxX + 3).attr('y', cfg.boxY + cfg.boxH / 2).attr('dy', '.36em')
    .style('font-size', '10px').text('KCNN4');

  const swatches = svg.append('g');
  cfg.legend.forEach((label, i) => {
    swatches.append('rect').attr('x', cfg.legendX).attr('y', cfg.legendY + i * cfg.legendStep)
      .attr('width', cfg.legendW).attr('height', cfg.legendStep)
      .attr('fill', i === 0 ? normalGreen : tumorRed);
    swatches.append('text').attr('x', cfg.legendX + cfg.legendW + 1.5)
      .attr('y', cfg.legendY + (i + .5) * cfg.legendStep).attr('dy', '.36em')
      .style('font-size', '10px').text(label);
  });

  const treeG = svg.append('g').attr('fill', 'none').attr('stroke', '#111').attr('stroke-width', cfg.treeWidth);
  const treeRowY = Object.assign((i) => rowY(i), { bandwidth: () => cfg.rowH });
  const treeX = d3.scaleLinear().domain([0, 26]).range([cfg.x0 - .5, cfg.x0 - 26.5]);
  drawTree(cfg.tree, treeX, treeRowY, treeG);
}

drawPanelLetter('B', 4, 288);
drawTitle('GSE3678', 163, 286);
drawTitle('GSE9115', 548, 290);
drawHeatmap({
  genes: g3678Genes, values: g3678Values, kcnn4: g3678Kcnn4, color: g3678Color,
  x0: 35.3, x1: 266.7, y0: 319.3, rowH: 8.4,
  barY: 300.7, barH: 5.3, split: 7, firstColor: tumorRed, secondColor: normalGreen,
  kcnn4Y: 308.3, kcnn4H: 8.4,
  boxX: 265, boxY: 303, boxW: 41, boxH: 14.5,
  legend: ['Normal', 'Tumor'], legendX: 259, legendY: 279.5, legendW: 13, legendStep: 9.4,
  treeWidth: 1.2,
  tree: [26, combTree(0, g3678TopMerges), combTree(25, g3678BottomMerges)]
});
drawHeatmap({
  genes: g9115Genes, values: g9115Values, kcnn4: g9115Kcnn4, color: g9115Color,
  x0: 422, x1: 659.3, y0: 323.7, rowH: 8.28, gapAfter: 38, gapH: .9,
  barY: 304, barH: 5, split: 4, firstColor: normalGreen, secondColor: tumorRed,
  kcnn4Y: 312.3, kcnn4H: 8.4,
  boxX: 660, boxY: 307.5, boxW: 40.5, boxH: 14.5,
  legend: ['Normal', 'PTC'], legendX: 655, legendY: 281, legendW: 12.5, legendStep: 9.4,
  treeWidth: 1.1,
  tree: g9115Tree
});
drawColorBar(g3678Color, [5.24, 12.53], [6, 8, 10, 12], { x0: 318, x1: 325, y0: 291.7, y1: 375 }, 328);
drawColorBar(g9115Color, [-1.38, 2.26], [-1, 0, 1, 2], { x0: 712.7, x1: 720, y0: 294.3, y1: 374.3 }, 722.5);

// panel C
drawPanelLetter('C', 11, 779);
const plot = { left: 73.5, right: 708.5, top: 785.7, bottom: 946.7 };
const xBand = d3.scaleBand().domain(pancanCats).range([plot.left, plot.right]);
const yValue = d3.scaleLinear().domain([0, 15]).range([939.3, 786.3]);
const stepW = xBand.step();

const pancan = svg.append('g');
pancan.selectAll('.grid-x').data(pancanCats).enter().append('line')
  .attr('x1', (d) => xBand(d) + stepW / 2).attr('x2', (d) => xBand(d) + stepW / 2)
  .attr('y1', plot.top).attr('y2', plot.bottom)
  .attr('stroke', '#e9eeee').attr('stroke-width', 1);
pancan.selectAll('.grid-y').data([0, 2.5, 5, 7.5, 10, 12.5, 15]).enter().append('line')
  .attr('x1', plot.left).attr('x2', plot.right)
  .attr('y1', (d) => yValue(d)).attr('y2', (d) => yValue(d))
  .attr('stroke', '#e9eeee').attr('stroke-width', (d) => (d % 5 === 0 ? 1.2 : .8));

pancan.selectAll('.gray').data(grayGroups).enter().append('rect')
  .attr('x', (d) => xBand(d[0]) + .5)
  .attr('width', (d) => xBand(d[1]) + stepW - xBand(d[0]) - 1)
  .attr('y', plot.top).attr('height', plot.bottom - plot.top)
  .attr('fill', '#9aaeb1');

const isBlue = (cat) => /Normal|Metastasis/.test(cat);
const markColor = (cat) => (isBlue(cat) ? '#2b35f2' : '#f5143c');

pancanCats.forEach((cat, c) => {
  const cx = xBand(cat) + stepW / 2;
  const g = pancan.append('g');
  const stroke = isBlue(cat) ? '#2430ee' : '#ee2a48';
  g.append('line').attr('x1', cx).attr('x2', cx)
    .attr('y1', yValue(whiskLo[c])).attr('y2', yValue(whiskHi[c]))
    .attr('stroke', stroke).attr('stroke-width', .9);
  if (coreLo[c] !== null) {
    g.append('rect').attr('x', cx - 3.2).attr('width', 6.4)
      .attr('y', yValue(coreHi[c])).attr('height', yValue(coreLo[c]) - yValue(coreHi[c]))
      .attr('fill', markColor(cat)).attr('opacity', .95);
  }
  const crowded = crowdedValues[c].length > 0;
  g.append('rect').attr('x', cx - 4.5).attr('width', 9)
    .attr('y', yValue(boxQ3[c])).attr('height', yValue(boxQ1[c]) - yValue(boxQ3[c]))
    .attr('fill', '#eceff4').attr('fill-opacity', coreLo[c] !== null ? .18 : (crowded ? .45 : .72))
    .attr('stroke', stroke).attr('stroke-width', .9);
  g.selectAll('circle').data(pointValues[c].concat(crowdedValues[c])).enter().append('circle')
    .attr('cx', (d, i) => cx + jitterSteps[i % jitterSteps.length] * 4.9)
    .attr('cy', (d) => yValue(d)).attr('r', 1.2)
    .attr('fill', markColor(cat)).attr('fill-opacity', .78);
  g.append('line').attr('x1', cx - 4.5).attr('x2', cx + 4.5)
    .attr('y1', yValue(boxMed[c])).attr('y2', yValue(boxMed[c]))
    .attr('stroke', stroke).attr('stroke-width', 1);
});

pancan.selectAll('.stars').data(grayGroups).enter().append('text')
  .attr('x', (d) => (xBand(d[0]) + xBand(d[1]) + stepW) / 2)
  .attr('y', 798).attr('text-anchor', 'middle')
  .style('font-size', '10.5px').text((d, i) => groupStars[i]);

pancan.append('rect').attr('x', plot.left).attr('y', plot.top)
  .attr('width', plot.right - plot.left).attr('height', plot.bottom - plot.top)
  .attr('fill', 'none').attr('stroke', '#8a8f8f').attr('stroke-width', 1);

const yAxisC = pancan.append('g').attr('transform', `translate(${plot.left},0)`)
  .call(d3.axisLeft(yValue).tickValues([0, 5, 10, 15]).tickSize(2).tickPadding(2));
yAxisC.select('.domain').remove();
yAxisC.selectAll('text').style('font-size', '6.4px').style('fill', '#333');
yAxisC.selectAll('line').attr('stroke', '#555');

const xAxisC = pancan.append('g').attr('transform', `translate(0,${plot.bottom})`)
  .call(d3.axisBottom(xBand).tickSize(2).tickPadding(2));
xAxisC.select('.domain').remove();
xAxisC.selectAll('line').attr('stroke', '#555');
xAxisC.selectAll('text')
  .attr('transform', 'rotate(-90)')
  .attr('x', -4).attr('y', 0).attr('dy', '.35em')
  .attr('text-anchor', 'end')
  .style('font-size', '6.1px');

svg.append('text')
  .attr('transform', 'translate(53,866) rotate(-90)')
  .attr('text-anchor', 'middle')
  .style('font-size', '7.9px')
  .text('KCNN4 Expression Level (log2 RSEM)');
</script>
</body>
</html>
